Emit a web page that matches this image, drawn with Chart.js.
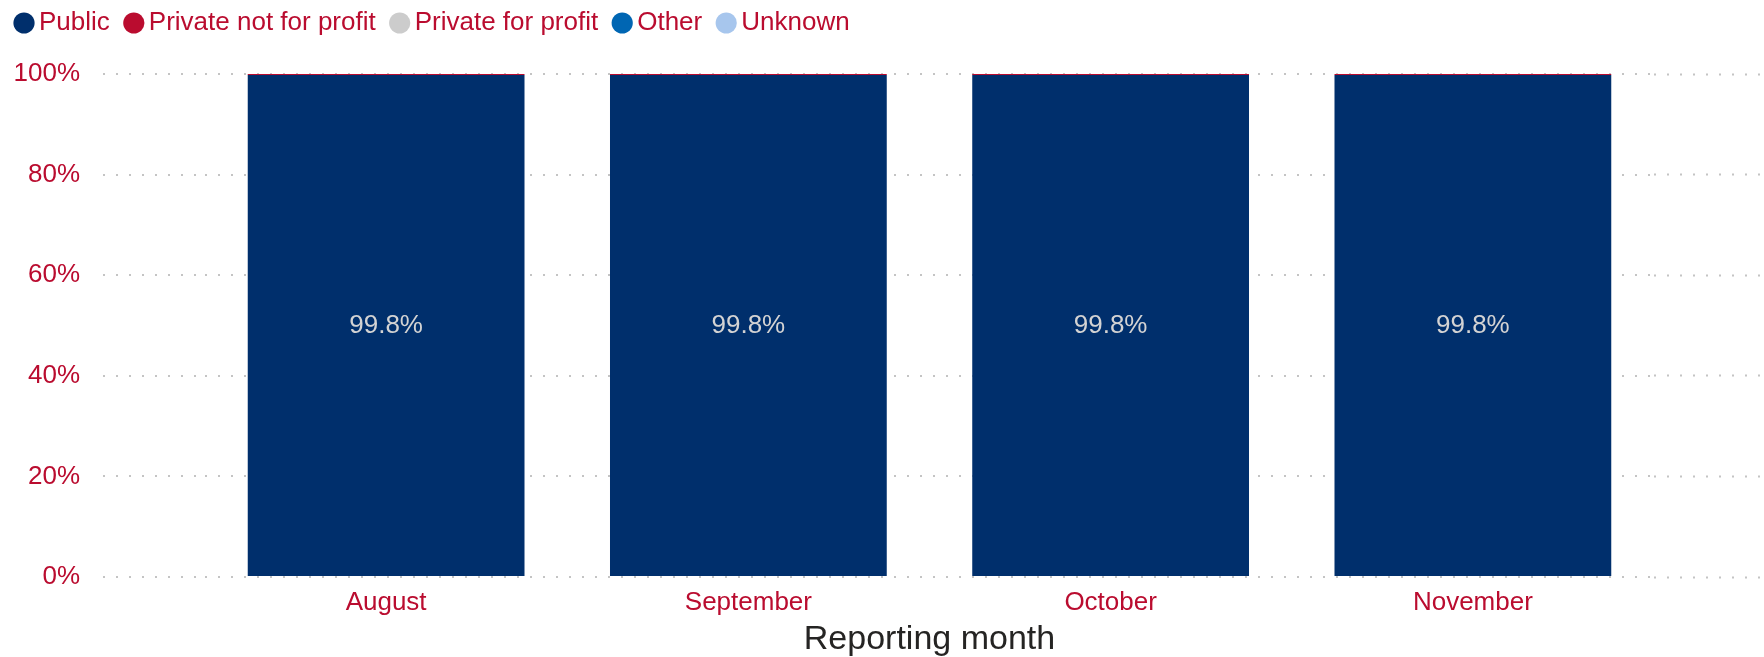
<!DOCTYPE html>
<html>
<head>
<meta charset="utf-8">
<script src="https://cdn.jsdelivr.net/npm/chart.js@4"></script>
<style>
  body { margin: 0; background: #fff; }
  #wrap { width: 1764px; height: 657px; }
</style>
</head>
<body>
<div id="wrap"><canvas id="owners"></canvas></div>
<script>
var months = ["August", "September", "October", "November"];
var publicVals = [99.8, 99.8, 99.8, 99.8];
var privateNfpVals = [0.2, 0.2, 0.2, 0.2];
var privateFpVals = [0, 0, 0, 0];
var otherVals = [0, 0, 0, 0];
var unknownVals = [0, 0, 0, 0];
var yTicks = [0, 20, 40, 60, 80, 100];

var red = "#BA0C2F";
var font = '"Liberation Sans", Arial, sans-serif';
var dots = [2, 11];

// labels in the middle of the Public bars
var barLabels = {
  id: "barLabels",
  afterDatasetsDraw: function (chart) {
    var ctx = chart.ctx;
    var meta = chart.getDatasetMeta(0);
    ctx.save();
    ctx.font = "26px " + font;
    ctx.fillStyle = "#D3D3D3";
    ctx.textAlign = "center";
    ctx.textBaseline = "middle";
    meta.data.forEach(function (bar, i) {
      ctx.fillText(publicVals[i].toFixed(1) + "%", bar.x, (bar.y + bar.base) / 2);
    });
    ctx.restore();
  }
};

// more room under the legend
var legendGap = {
  id: "legendGap",
  beforeInit: function (chart) {
    var fit = chart.legend.fit;
    chart.legend.fit = function () {
      fit.bind(chart.legend)();
      this.height += 28;
    };
  }
};

new Chart("owners", {
  type: "bar",
  data: {
    labels: months,
    datasets: [
      { label: "Public", data: publicVals, backgroundColor: "#002F6C" },
      { label: "Private not for profit", data: privateNfpVals, backgroundColor: red },
      { label: "Private for profit", data: privateFpVals, backgroundColor: "#CCCCCC" },
      { label: "Other", data: otherVals, backgroundColor: "#0066B3" },
      { label: "Unknown", data: unknownVals, backgroundColor: "#A7C6ED" }
    ]
  },
  options: {
    responsive: true,
    maintainAspectRatio: false,
    animation: false,
    categoryPercentage: 1,
    barPercentage: 0.764,
    layout: { padding: { top: -12 } },
    plugins: {
      legend: {
        align: "start",
        labels: {
          usePointStyle: true,
          pointStyle: "circle",
          boxWidth: 4,
          boxHeight: 15,
          padding: 22,
          color: red,
          font: { family: font, size: 26 }
        }
      },
      tooltip: { enabled: false }
    },
    scales: {
      x: {
        stacked: true,
        grid: { display: false, drawTicks: false },
        border: { display: false },
        ticks: { color: red, padding: 10, font: { family: font, size: 26 } },
        title: {
          display: true,
          text: "Reporting month",
          color: "#252423",
          padding: { top: 0, bottom: 0 },
          font: { family: font, size: 34, lineHeight: 1 }
        },
        afterFit: function (scale) { scale.height = 80; }
      },
      y: {
        stacked: true,
        min: 0,
        max: 100,
        afterBuildTicks: function (scale) {
          scale.ticks = yTicks.map(function (v) { return { value: v }; });
        },
        ticks: {
          color: red,
          padding: 23,
          font: { family: font, size: 26 },
          callback: function (v) { return v + "%"; }
        },
        grid: {
          color: "#C4C4C4",
          lineWidth: 2,
          tickLength: 102,
          tickColor: "#C4C4C4",
          tickWidth: 2,
          tickBorderDash: dots
        },
        border: { display: false, dash: dots },
        afterFit: function (scale) { scale.width = 205; }
      },
      yRight: {
        position: "right",
        min: 0,
        max: 100,
        afterBuildTicks: function (scale) {
          scale.ticks = yTicks.map(function (v) { return { value: v }; });
        },
        ticks: { display: false },
        grid: {
          drawOnChartArea: false,
          tickLength: 110,
          tickColor: "#C4C4C4",
          tickWidth: 2,
          tickBorderDash: dots
        },
        border: { display: false },
        afterFit: function (scale) { scale.width = 110; }
      }
    }
  },
  plugins: [barLabels, legendGap]
});
</script>
</body>
</html>
